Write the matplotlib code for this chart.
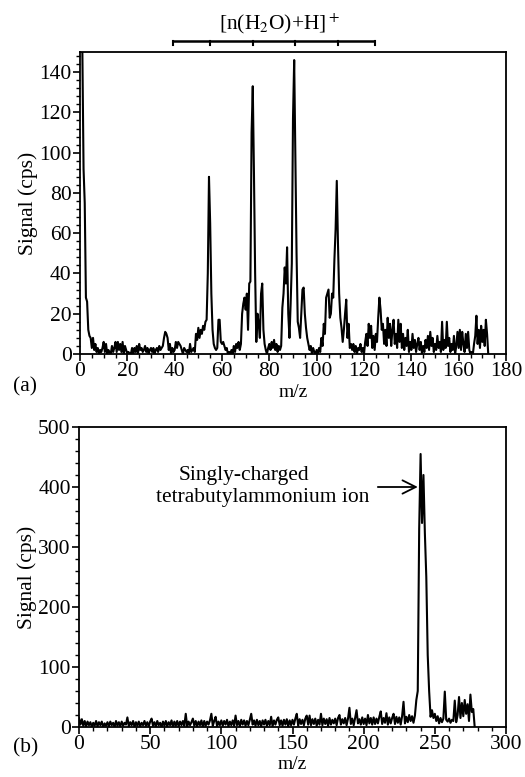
import numpy as np
import matplotlib.pyplot as plt
from matplotlib.ticker import MultipleLocator

plt.rcParams['font.family'] = ['Liberation Serif', 'DejaVu Serif']
plt.rcParams['mathtext.fontset'] = 'stix'
plt.rcParams['font.size'] = 15.5

# (a) water cluster spectrum, m/z step 0.5 from 0
sig_a = [
    160, 160, 150, 92, 75, 28, 26, 12, 9, 8,
    3, 8, 2, 5, 1, 3, 0, 2, 1, 3,
    6, 1, 5, 0, 2, 1, 0, 4, 1, 3,
    6, 1, 6, 2, 5, 1, 6, 0, 4, 2,
    0, 1, 0, 0, 3, 0, 3, 1, 4, 0,
    5, 2, 3, 1, 2, 4, 1, 3, 0, 2,
    3, 1, 3, 0, 2, 3, 1, 4, 2, 3,
    4, 8, 11, 10, 8, 2, 5, 0, 3, 1,
    2, 6, 3, 6, 5, 4, 2, 0, 3, 2,
    1, 2, 0, 5, 1, 2, 3, 1, 10, 7,
    13, 8, 12, 10, 14, 12, 16, 17, 40, 88,
    65, 30, 12, 5, 3, 2, 3, 17, 17, 6,
    5, 6, 4, 2, 3, 0, 1, 0, 2, 0,
    4, 1, 5, 3, 6, 2, 5, 20, 25, 28,
    22, 30, 12, 35, 36, 110, 133, 90, 40, 6,
    20, 15, 8, 30, 35, 12, 5, 2, 0, 3,
    5, 2, 6, 3, 7, 2, 5, 1, 4, 2,
    4, 23, 30, 43, 35, 53, 20, 8, 25, 45,
    117, 146, 96, 50, 16, 13, 8, 20, 32, 33,
    20, 13, 8, 5, 2, 4, 0, 3, 1, 0,
    2, 0, 3, 1, 8, 4, 15, 10, 28, 30,
    32, 18, 20, 30, 28, 47, 62, 86, 55, 30,
    18, 13, 6, 12, 20, 27, 8, 15, 3, 5,
    2, 5, 1, 4, 0, 3, 2, 5, 1, 3,
    0, 6, 10, 4, 15, 8, 14, 3, 9, 2,
    10, 6, 18, 28, 22, 12, 15, 5, 12, 4,
    18, 8, 15, 4, 12, 17, 5, 10, 3, 17,
    6, 15, 3, 10, 2, 8, 4, 12, 1, 6,
    2, 10, 3, 7, 1, 5, 8, 2, 6, 0,
    4, 1, 7, 3, 9, 2, 11, 4, 8, 1,
    5, 2, 9, 3, 6, 1, 16, 2, 7, 3,
    16, 4, 8, 1, 5, 2, 9, 0, 4, 11,
    3, 12, 2, 11, 5, 1, 10, 3, 11, 2,
    0, 1, 0, 5, 9, 19, 5, 12, 3, 14,
    6, 12, 4, 17, 10, 0,
]
mz_a = np.arange(len(sig_a)) * 0.5

# (b) tetrabutylammonium spectrum, m/z step 1 from 0
sig_b = [
    15, 4, 13, 2, 10, 1, 9, 3, 8, 0,
    7, 2, 10, 1, 8, 3, 9, 0, 6, 2,
    8, 1, 9, 3, 7, 0, 10, 2, 8, 1,
    9, 2, 7, 4, 16, 1, 8, 3, 10, 0,
    8, 2, 9, 1, 7, 3, 10, 2, 8, 1,
    9, 14, 2, 8, 1, 10, 3, 7, 0, 9,
    2, 10, 1, 8, 3, 11, 0, 9, 2, 10,
    1, 9, 3, 10, 2, 22, 1, 9, 3, 8,
    14, 2, 10, 1, 9, 3, 11, 0, 10, 2,
    9, 4, 11, 22, 2, 10, 17, 1, 9, 3,
    11, 2, 10, 4, 12, 1, 9, 3, 11, 2,
    19, 3, 10, 1, 12, 4, 11, 2, 10, 3,
    12, 22, 4, 11, 2, 12, 3, 10, 1, 11,
    4, 12, 2, 10, 3, 17, 1, 11, 4, 12,
    16, 3, 11, 2, 12, 4, 13, 1, 11, 3,
    12, 4, 14, 22, 2, 13, 5, 12, 3, 14,
    19, 4, 19, 3, 13, 5, 14, 2, 12, 4,
    22, 3, 14, 5, 13, 2, 15, 4, 12, 6,
    14, 3, 15, 20, 4, 13, 6, 15, 3, 14,
    32, 5, 14, 3, 15, 28, 6, 13, 4, 16,
    5, 14, 3, 20, 6, 15, 4, 16, 5, 14,
    6, 17, 26, 5, 15, 7, 23, 4, 16, 6,
    15, 22, 5, 17, 7, 16, 4, 18, 42, 6,
    17, 8, 20, 10, 18, 7, 19, 45, 60, 330,
    455, 340, 420, 323, 250, 120, 60, 17, 28, 15,
    22, 10, 18, 6, 15, 8, 14, 59, 12, 9,
    14, 7, 12, 10, 44, 8, 20, 50, 15, 40,
    18, 45, 22, 38, 10, 54, 25, 30, 0,
]
mz_b = np.arange(len(sig_b)) * 1.0

# water cluster positions marked above panel (a)
cluster_mz = [39.5, 55, 73, 91, 109, 124.5]

fig = plt.figure(figsize=(5.25, 7.77), dpi=100)
ax1 = fig.add_axes([80/525, 1-354/777, 426/525, 302/777])
ax2 = fig.add_axes([79/525, 1-727/777, 427/525, 300/777])

ax1.plot(mz_a, sig_a, color='black', lw=1.5)
ax2.plot(mz_b, sig_b, color='black', lw=1.5)

ax1.set_xlim(0, 180)
ax1.set_ylim(0, 150)
ax1.xaxis.set_major_locator(MultipleLocator(20))
ax1.xaxis.set_minor_locator(MultipleLocator(5))
ax1.yaxis.set_major_locator(MultipleLocator(20))
ax1.yaxis.set_minor_locator(MultipleLocator(4))

ax2.set_xlim(0, 300)
ax2.set_ylim(0, 500)
ax2.xaxis.set_major_locator(MultipleLocator(50))
ax2.xaxis.set_minor_locator(MultipleLocator(10))
ax2.yaxis.set_major_locator(MultipleLocator(100))
ax2.yaxis.set_minor_locator(MultipleLocator(20))

for ax in (ax1, ax2):
    for s in ax.spines.values():
        s.set_linewidth(1.3)
        s.set_color('black')
    ax.tick_params(which='major', direction='out', length=5, width=1.2, pad=1,
                   labelsize=15.5, color='black')
    ax.tick_params(which='minor', direction='out', length=3, width=1.0, color='black')
    ax.set_xlabel('m/z', fontsize=14)
    ax.set_ylabel('Signal (cps)', fontsize=15.5, labelpad=1)

# m/z labels sit tight under the tick labels
ax1.xaxis.set_label_coords(0.5, -0.1)
ax2.xaxis.set_label_coords(0.5, -0.098)

# bracket with cluster ticks
ax1.plot([cluster_mz[0], cluster_mz[-1]], [155.5, 155.5], color='black', lw=1.8,
         clip_on=False, solid_capstyle='butt')
for m in cluster_mz:
    ax1.plot([m, m], [155.5, 153.3], color='black', lw=1.5, clip_on=False)
ax1.text(84.5, 164, r'[n(H$_2$O)+H]$^+$', ha='center', va='center', fontsize=15.5)

# annotation in panel (b)
ax2.text(116, 420, 'Singly-charged', ha='center', va='center', fontsize=15.5)
ax2.text(129, 382, 'tetrabutylammonium ion', ha='center', va='center', fontsize=15.5)
ax2.annotate('', xy=(240, 400), xytext=(208, 400),
             arrowprops=dict(arrowstyle='->', lw=1.3, color='black',
                             mutation_scale=24))

fig.text(13/525, 1-387/777, '(a)', ha='left', va='center', fontsize=15.5)
fig.text(13/525, 1-748/777, '(b)', ha='left', va='center', fontsize=15.5)

fig.savefig('out.png', dpi=100)
